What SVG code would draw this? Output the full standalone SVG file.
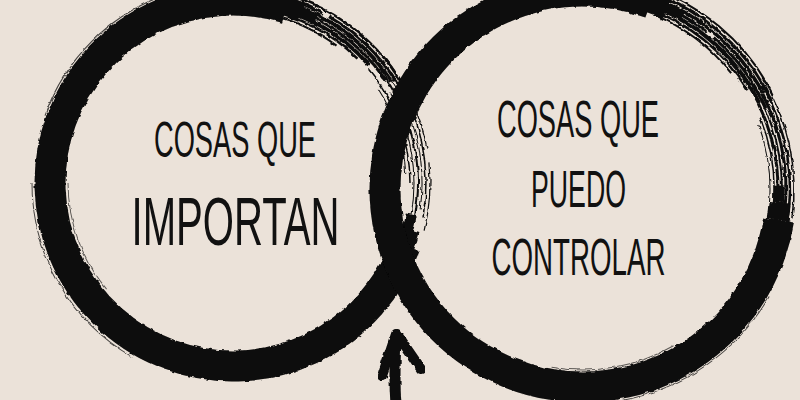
<svg xmlns="http://www.w3.org/2000/svg" width="800" height="400" viewBox="0 0 800 400">
<defs>
<filter id="rough" x="-10%" y="-10%" width="120%" height="120%">
<feTurbulence type="fractalNoise" baseFrequency="0.14" numOctaves="2" seed="3" result="n"/>
<feDisplacementMap in="SourceGraphic" in2="n" scale="3.5" xChannelSelector="R" yChannelSelector="G"/>
</filter>
</defs>
<style>
.ink{fill:none;stroke:#0a0a0a}
.dry{fill:none;stroke:#0a0a0a}
.lbl{font-family:"Liberation Sans Narrow","Liberation Sans","DejaVu Sans",sans-serif;fill:#111;text-anchor:middle}
.arrow{fill:none;stroke:#0a0a0a;stroke-linecap:round}
</style>
<rect width="800" height="400" fill="#ebe2d9"/>

<g id="circle-importan">
<g filter="url(#rough)">
<circle class="ink" cx="233" cy="183" r="183" stroke-width="31" pathLength="360" stroke-dasharray="267 93" transform="rotate(20 233 183)"/>
<circle class="ink" cx="233" cy="183" r="182" stroke-width="22" pathLength="360" stroke-dasharray="6 354" transform="rotate(15 233 183)"/>
<circle class="ink" cx="233" cy="183" r="181" stroke-width="11" pathLength="360" stroke-dasharray="6 354" transform="rotate(10 233 183)"/>
<circle class="ink" cx="233" cy="183" r="184" stroke-width="20" pathLength="360" stroke-dasharray="6 354" transform="rotate(286 233 183)"/>
<circle class="ink" cx="233" cy="183" r="185" stroke-width="10" pathLength="360" stroke-dasharray="6 354" transform="rotate(291 233 183)"/>
<circle class="dry" cx="233" cy="183" r="196" stroke-width="2.5" pathLength="360" stroke-dasharray="50 310" transform="rotate(280 233 183)"/>
<circle class="dry" cx="233" cy="183" r="192" stroke-width="3" pathLength="360" stroke-dasharray="20 2 28 310" transform="rotate(278 233 183)"/>
<circle class="dry" cx="233" cy="183" r="188" stroke-width="4" pathLength="360" stroke-dasharray="48 312" transform="rotate(279 233 183)"/>
<circle class="dry" cx="233" cy="183" r="184" stroke-width="3" pathLength="360" stroke-dasharray="45 315" transform="rotate(281 233 183)"/>
<circle class="dry" cx="233" cy="183" r="180" stroke-width="4" pathLength="360" stroke-dasharray="40 320" transform="rotate(279 233 183)"/>
<circle class="dry" cx="233" cy="183" r="176" stroke-width="2.5" pathLength="360" stroke-dasharray="35 325" transform="rotate(280 233 183)"/>
<circle class="dry" cx="233" cy="183" r="172" stroke-width="2" pathLength="360" stroke-dasharray="25 335" transform="rotate(282 233 183)"/>
<circle class="dry" cx="233" cy="183" r="197" stroke-width="1.2" pathLength="360" stroke-dasharray="30 4 20 306" transform="rotate(320 233 183)"/>
<circle class="dry" cx="233" cy="183" r="193" stroke-width="1.5" pathLength="360" stroke-dasharray="45 315" transform="rotate(325 233 183)"/>
<circle class="dry" cx="233" cy="183" r="189" stroke-width="1" pathLength="360" stroke-dasharray="15 5 30 310" transform="rotate(318 233 183)"/>
<circle class="dry" cx="233" cy="183" r="185" stroke-width="2" pathLength="360" stroke-dasharray="50 310" transform="rotate(322 233 183)"/>
<circle class="dry" cx="233" cy="183" r="181" stroke-width="1" pathLength="360" stroke-dasharray="40 320" transform="rotate(330 233 183)"/>
<circle class="dry" cx="233" cy="183" r="177" stroke-width="1.5" pathLength="360" stroke-dasharray="40 320" transform="rotate(320 233 183)"/>
<circle class="dry" cx="233" cy="183" r="173" stroke-width="1" pathLength="360" stroke-dasharray="30 330" transform="rotate(327 233 183)"/>
<circle class="dry" cx="233" cy="183" r="201" stroke-width="1" opacity="0.7" pathLength="360" stroke-dasharray="60 300" transform="rotate(120 233 183)"/>
<circle class="dry" cx="233" cy="183" r="200" stroke-width="1.2" opacity="0.7" pathLength="360" stroke-dasharray="50 310" transform="rotate(200 233 183)"/>
<circle class="dry" cx="233" cy="183" r="165" stroke-width="1" opacity="0.6" pathLength="360" stroke-dasharray="40 320" transform="rotate(140 233 183)"/>
</g>
<text class="lbl" x="235" y="157" font-size="50" textLength="162" lengthAdjust="spacingAndGlyphs">COSAS QUE</text>
<text class="lbl" x="235.5" y="245" font-size="68" textLength="208" lengthAdjust="spacingAndGlyphs">IMPORTAN</text>
</g>

<g id="circle-controlar">
<g filter="url(#rough)">
<circle class="ink" cx="583" cy="189" r="198" stroke-width="31" pathLength="360" stroke-dasharray="281 79" transform="rotate(9 583 189)"/>
<circle class="ink" cx="583" cy="189" r="197" stroke-width="22" pathLength="360" stroke-dasharray="5 355" transform="rotate(4 583 189)"/>
<circle class="ink" cx="583" cy="189" r="196" stroke-width="11" pathLength="360" stroke-dasharray="5 355" transform="rotate(359 583 189)"/>
<circle class="ink" cx="583" cy="189" r="198" stroke-width="20" pathLength="360" stroke-dasharray="6 354" transform="rotate(289 583 189)"/>
<circle class="ink" cx="583" cy="189" r="199" stroke-width="10" pathLength="360" stroke-dasharray="6 354" transform="rotate(294 583 189)"/>
<circle class="dry" cx="583" cy="189" r="212" stroke-width="2" pathLength="360" stroke-dasharray="48 312" transform="rotate(286 583 189)"/>
<circle class="dry" cx="583" cy="189" r="208" stroke-width="3" pathLength="360" stroke-dasharray="50 310" transform="rotate(285 583 189)"/>
<circle class="dry" cx="583" cy="189" r="204" stroke-width="3.5" pathLength="360" stroke-dasharray="45 315" transform="rotate(287 583 189)"/>
<circle class="dry" cx="583" cy="189" r="200" stroke-width="3" pathLength="360" stroke-dasharray="20 3 25 312" transform="rotate(288 583 189)"/>
<circle class="dry" cx="583" cy="189" r="196" stroke-width="4" pathLength="360" stroke-dasharray="48 312" transform="rotate(286 583 189)"/>
<circle class="dry" cx="583" cy="189" r="192" stroke-width="2.5" pathLength="360" stroke-dasharray="40 320" transform="rotate(289 583 189)"/>
<circle class="dry" cx="583" cy="189" r="188" stroke-width="2" pathLength="360" stroke-dasharray="30 330" transform="rotate(292 583 189)"/>
<circle class="dry" cx="583" cy="189" r="211" stroke-width="1.5" pathLength="360" stroke-dasharray="40 320" transform="rotate(328 583 189)"/>
<circle class="dry" cx="583" cy="189" r="207" stroke-width="2.5" pathLength="360" stroke-dasharray="42 318" transform="rotate(330 583 189)"/>
<circle class="dry" cx="583" cy="189" r="203" stroke-width="3" pathLength="360" stroke-dasharray="40 320" transform="rotate(332 583 189)"/>
<circle class="dry" cx="583" cy="189" r="199" stroke-width="2" pathLength="360" stroke-dasharray="43 317" transform="rotate(329 583 189)"/>
<circle class="dry" cx="583" cy="189" r="195" stroke-width="3" pathLength="360" stroke-dasharray="38 322" transform="rotate(334 583 189)"/>
<circle class="dry" cx="583" cy="189" r="191" stroke-width="1.5" pathLength="360" stroke-dasharray="34 326" transform="rotate(338 583 189)"/>
<circle class="dry" cx="583" cy="189" r="187" stroke-width="1" pathLength="360" stroke-dasharray="25 335" transform="rotate(340 583 189)"/>
<circle class="dry" cx="583" cy="189" r="215" stroke-width="1" opacity="0.7" pathLength="360" stroke-dasharray="50 310" transform="rotate(30 583 189)"/>
<circle class="dry" cx="583" cy="189" r="181" stroke-width="1" opacity="0.6" pathLength="360" stroke-dasharray="40 320" transform="rotate(60 583 189)"/>
</g>
<text class="lbl" x="578" y="137" font-size="51" textLength="162" lengthAdjust="spacingAndGlyphs">COSAS QUE</text>
<text class="lbl" x="578.5" y="207" font-size="51" textLength="95" lengthAdjust="spacingAndGlyphs">PUEDO</text>
<text class="lbl" x="578.5" y="275" font-size="51" textLength="174" lengthAdjust="spacingAndGlyphs">CONTROLAR</text>
</g>

<g id="connectors" filter="url(#rough)">
<path class="arrow" d="M396 340 C395 360 394 380 396 404" stroke-width="11"/>
<path class="arrow" d="M396 334 L382 376" stroke-width="10"/>
<path class="arrow" d="M397 334 L421 369" stroke-width="10"/>
</g>
</svg>
